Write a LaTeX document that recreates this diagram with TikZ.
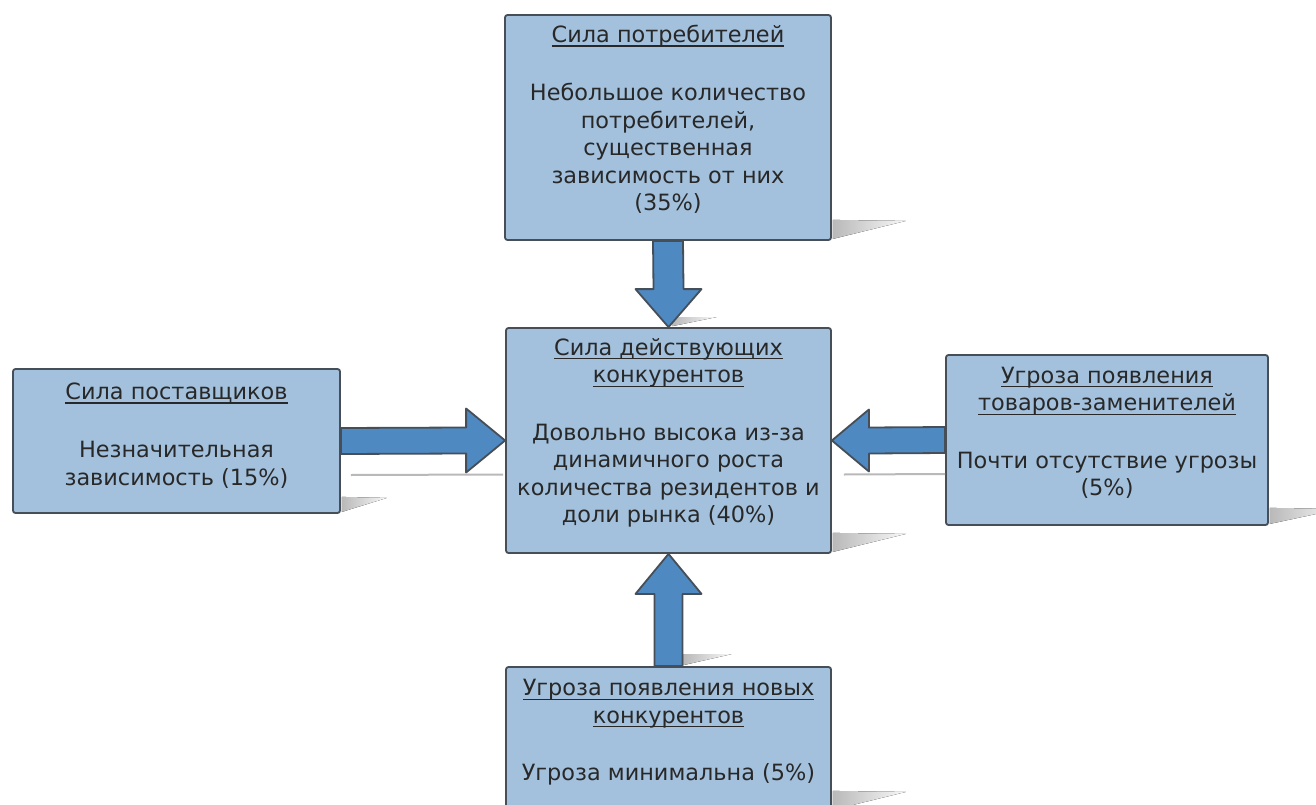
\documentclass[tikz,border=0pt]{standalone}
\usepackage{fontspec}
\setmainfont{DejaVu Sans}
\usetikzlibrary{calc}
\definecolor{boxfill}{RGB}{163,193,221}
\definecolor{edge}{RGB}{70,78,88}
\definecolor{arrowfill}{RGB}{79,137,194}
\definecolor{ink}{RGB}{40,40,40}
% underlined heading line
\newcommand{\ulx}[1]{\setbox0=\hbox{#1}\leavevmode\rlap{\vrule width\wd0 height -0.12em depth 0.18em}\box0}
\begin{document}
\begin{tikzpicture}[x=1pt,y=-1pt,
  force/.style={draw=edge, line width=1.8pt, fill=boxfill, rounded corners=2.5pt, inner sep=0pt},
  caption/.style={text=ink, align=center, font=\fontsize{22.4}{27.5}\selectfont, inner sep=0pt},
  flow/.style={draw=edge, line width=1.8pt, fill=arrowfill, line join=round},
  floor/.style={left color=gray!55, right color=gray!5, draw=none},
  trail/.style={draw=gray!55, line width=2pt}]
\useasboundingbox (0,0) rectangle (1316,805);
\clip (0,0) rectangle (1316,805);

% the five forces
\node[force, minimum width=326pt, minimum height=225pt] (buyers) at (668,127.5) {};
\node[force, minimum width=325pt, minimum height=225pt] (rivals) at (668.5,440.5) {};
\node[force, minimum width=327pt, minimum height=144pt] (suppliers) at (176.5,441) {};
\node[force, minimum width=322pt, minimum height=170pt] (substitutes) at (1107,440) {};
\node[force, minimum width=325pt, minimum height=144pt] (entrants) at (668.5,739) {};

\node[caption] (buyers-text) at ($(buyers)+(0,-8)$)
  {\ulx{Сила потребителей}\\[30.5pt]Небольшое количество\\потребителей,\\существенная\\зависимость от них\\(35\%)};
\node[caption] (rivals-text) at ($(rivals)+(0,-7.5)$)
  {\ulx{Сила действующих}\\\ulx{конкурентов}\\[30pt]Довольно высока из-за\\динамичного роста\\количества резидентов и\\доли рынка (40\%)};
\node[caption] (suppliers-text) at ($(suppliers)+(0,-5.5)$)
  {\ulx{Сила поставщиков}\\[30.5pt]Незначительная\\зависимость (15\%)};
\node[caption] (substitutes-text) at ($(substitutes)+(0,-7)$)
  {\ulx{Угроза появления}\\\ulx{товаров-заменителей}\\[30pt]Почти отсутствие угрозы\\(5\%)};
\node[caption] (entrants-text) at ($(entrants)+(0,-6.5)$)
  {\ulx{Угроза появления новых}\\\ulx{конкурентов}\\[30pt]Угроза минимальна (5\%)};

% floor shadows behind the boxes
\fill[floor] ($(buyers.south east)+(1,-21)$) -- ++(73,1) -- ($(buyers.south east)+(1,-2)$) -- cycle;
\fill[floor] ($(rivals.south east)+(1,-21)$) -- ++(73,1) -- ($(rivals.south east)+(1,-2)$) -- cycle;
\fill[floor] ($(suppliers.south east)+(1,-17)$) -- ++(45,1) -- ($(suppliers.south east)+(1,-2)$) -- cycle;
\fill[floor] ($(substitutes.south east)+(1,-18)$) -- ++(70,1) -- ($(substitutes.south east)+(1,-2)$) -- cycle;
\fill[floor] ($(entrants.south east)+(1,-21)$) -- ++(73,1) -- ($(entrants.south east)+(1,-2)$) -- cycle;

% shadows of the arrows
\draw[trail] ($(suppliers.east)+(10,34)$) -- ($(rivals.west)+(-2,34)$);
\draw[trail] ($(rivals.east)+(12,34)$) -- ($(substitutes.west)+(0,34)$);
\fill[floor] ($(rivals.north)+(4,-10)$) -- ++(44,0) -- ($(rivals.north)+(4,-1)$) -- cycle;
\fill[floor] ($(entrants.north)+(15,-12)$) -- ++(48,0) -- ($(entrants.north)+(15,-1)$) -- cycle;

% block arrows pointing at the central box
\draw[flow] ($(buyers.south)+(-15,0)$) -- ($(rivals.north)+(-15,-38)$) -- ($(rivals.north)+(-33,-38)$)
  -- (rivals.north) -- ($(rivals.north)+(33,-38)$) -- ($(rivals.north)+(15,-38)$) -- ($(buyers.south)+(15,0)$) -- cycle;
\draw[flow] ($(entrants.north)+(-14,0)$) -- ($(rivals.south)+(-14,40)$) -- ($(rivals.south)+(-33,40)$)
  -- (rivals.south) -- ($(rivals.south)+(33,40)$) -- ($(rivals.south)+(14,40)$) -- ($(entrants.north)+(14,0)$) -- cycle;
\draw[flow] ($(suppliers.east)+(0,-13)$) -- ($(rivals.west)+(-39,-13)$) -- ($(rivals.west)+(-39,-32)$)
  -- (rivals.west) -- ($(rivals.west)+(-39,32)$) -- ($(rivals.west)+(-39,13)$) -- ($(suppliers.east)+(0,13)$) -- cycle;
\draw[flow] ($(substitutes.west)+(0,-13)$) -- ($(rivals.east)+(37,-13)$) -- ($(rivals.east)+(37,-31)$)
  -- (rivals.east) -- ($(rivals.east)+(37,31)$) -- ($(rivals.east)+(37,13)$) -- ($(substitutes.west)+(0,13)$) -- cycle;
\end{tikzpicture}
\end{document}
